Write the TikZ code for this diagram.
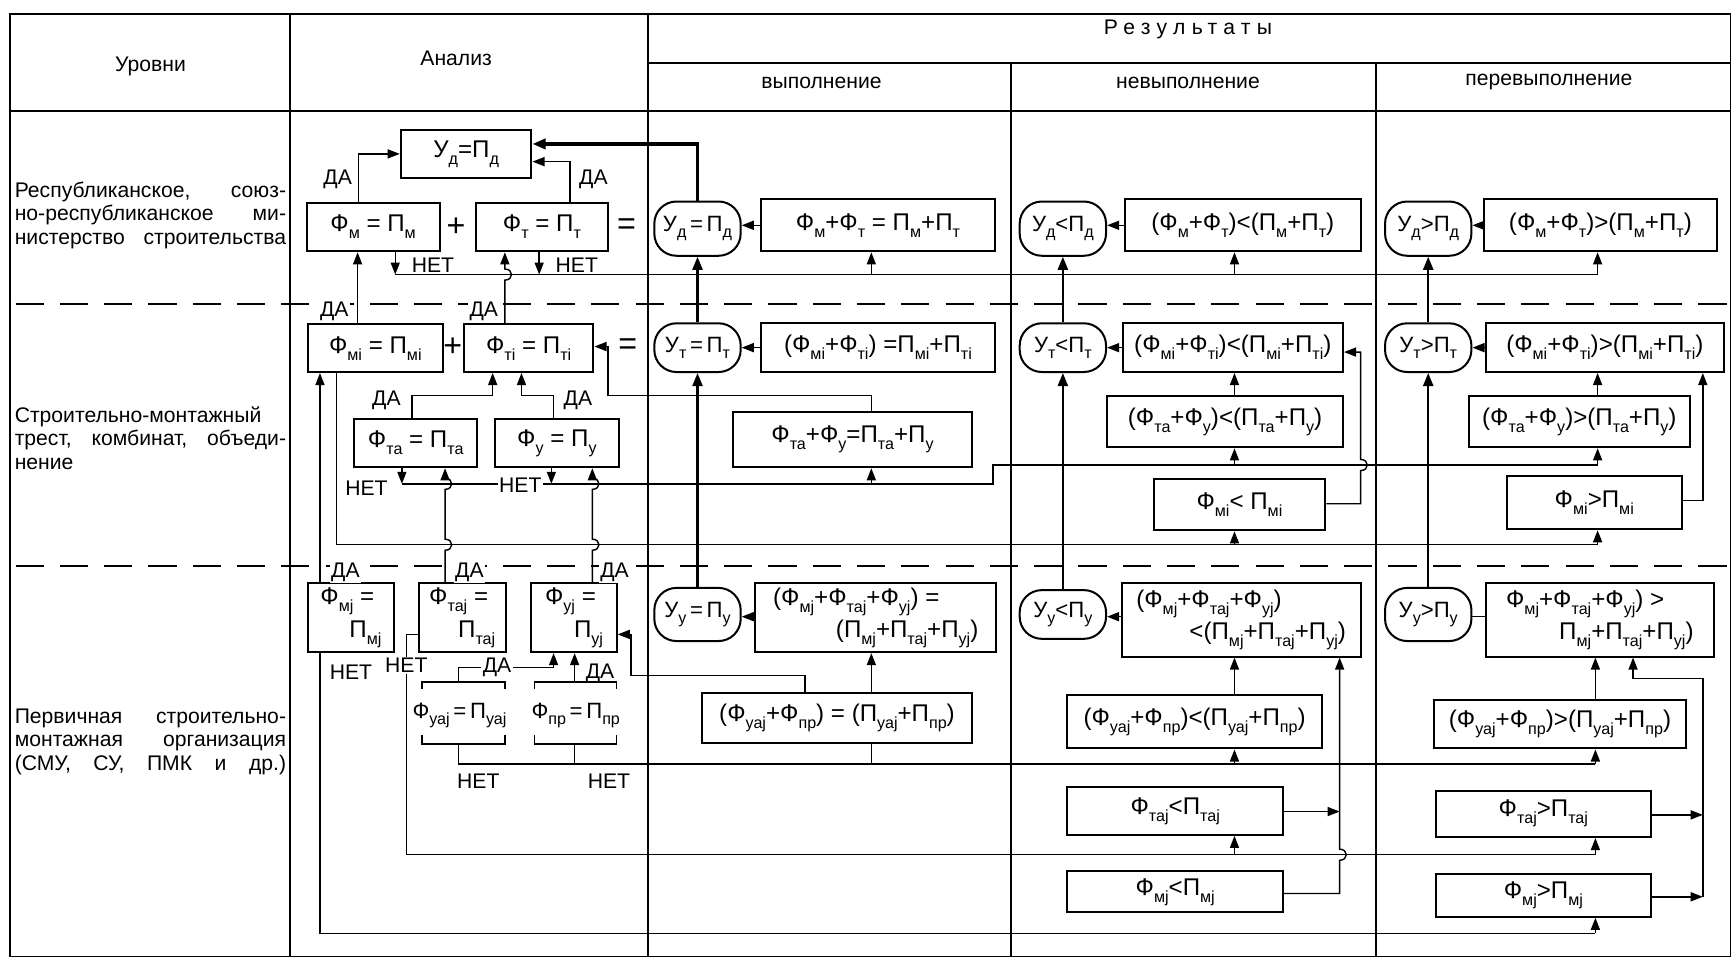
\documentclass[tikz,border=0pt]{standalone}
\usepackage{fontspec}
\setmainfont{Liberation Sans}
\usetikzlibrary{arrows.meta}
\hyphenpenalty=10000
\exhyphenpenalty=10000
\newcommand\subs[1]{\raisebox{-0.55ex}{\fontsize{8}{8}\selectfont #1}}
\newcommand\lf{\fontsize{10.5}{11.6}\selectfont}
\newcommand\ff{\fontsize{12}{16}\selectfont}
\newcommand\fo{\fontsize{11}{16}\selectfont}
\newcommand\sgf{\fontsize{16}{16}\selectfont}
\def\U{0.55pt}
\newcommand\bx[7][bxs]{\node[#1,minimum width={(#5-#3)*\U},minimum height={(#6-#4)*\U}] (#2) at ({(#3+#5)/2},{(#4+#6)/2}) {#7};}
\begin{document}
\begin{tikzpicture}[x=0.55pt,y=-0.55pt,
  tbl/.style={line width=0.9pt},
  dsh/.style={line width=1pt,dash pattern=on 14pt off 8pt},
  bxs/.style={draw,line width=1pt,inner sep=1pt,font=\ff,align=center},
  bxl/.style={bxs,align=left},
  ovs/.style={bxs,rounded corners=11pt,font=\fo},
  ln/.style={line width=0.7pt},
  ar/.style={ln,-{Triangle[length=6pt,width=4.5pt]}},
  tk/.style={line width=1.6pt,-{Triangle[length=6.5pt,width=5pt]}},
  vk/.style={line width=1.1pt,-{Triangle[length=6.5pt,width=5pt]}},
  hd/.style={font=\lf,inner sep=0pt},
  lbl/.style={font=\lf,fill=white,inner sep=0.8pt},
  lab/.style={font=\lf,text width=134.75pt,align=justify,inner sep=0pt,anchor=north west},
  sgn/.style={font=\sgf,inner sep=0pt}]
\useasboundingbox (0,0) rectangle (1568,874);
% ---------- table ----------
\draw[tbl] (9,13) rectangle (1563,864);
\draw[tbl] (262,13) -- (262,864);
\draw[tbl] (585,13) -- (585,864);
\draw[tbl] (913,57) -- (913,864);
\draw[tbl] (1243,57) -- (1243,864);
\draw[tbl] (9,100) -- (1563,100);
\draw[tbl] (585,57) -- (1563,57);
\draw[dsh] (14,275) -- (1560,275);
\draw[dsh] (14,511) -- (1560,511);
% ---------- headers ----------
\node[hd] (hA) at (136,60) {Уровни};
\node[hd] (hB) at (412,53) {Анализ};
\node[hd] (hC) at (1073,27) {\addfontfeature{LetterSpace=30}Результаты};
\node[hd] (hD) at (742,75) {выполнение};
\node[hd] (hE) at (1073,75) {невыполнение};
\node[hd] (hF) at (1399,74) {перевыполнение};
% ---------- level labels ----------
\node[lab] (L1) at (13,164) {Республиканское, союз-\linebreak но-республиканское ми-\linebreak нистерство\hfill строительства};
\node[lab] (L2) at (13,367) {Строительно-монтажный\linebreak трест, комбинат, объеди-\linebreak нение};
\node[lab] (L3) at (13,640) {Первичная строительно-\linebreak монтажная организация\linebreak (СМУ,\hfill СУ,\hfill ПМК\hfill и\hfill др.)};
% ---------- analysis boxes ----------
\bx{Ud}{362}{117}{480}{161}{У\subs{д}=П\subs{д}}
\bx{Fm}{277}{183}{397}{227}{Ф\subs{м} = П\subs{м}}
\bx{Ft}{430}{183}{549}{227}{Ф\subs{т} = П\subs{т}}
\node[sgn] (p1) at (412,205) {+};
\node[sgn] (e1) at (566,205) {=};
\bx{Fmi}{278}{293}{400}{336}{Ф\subs{мi} = П\subs{мi}}
\bx{Fti}{419}{293}{536}{336}{Ф\subs{тi} = П\subs{тi}}
\node[sgn] (p2) at (409,314) {+};
\node[sgn] (e2) at (567,313) {=};
\bx{Fta}{320}{378}{431}{422}{Ф\subs{та} = П\subs{та}}
\bx{Fu}{447}{378}{559}{422}{Ф\subs{у} = П\subs{у}}
\bx[bxl]{Fmj}{278}{527}{356}{589}{Ф\subs{мj} =\\\hspace*{1.2em}П\subs{мj}}
\bx[bxl]{Ftaj}{378}{527}{457}{589}{Ф\subs{таj} =\\\hspace*{1.2em}П\subs{таj}}
\bx[bxl]{Fuj}{480}{527}{557}{589}{Ф\subs{уj} =\\\hspace*{1.2em}П\subs{уj}}
\node[font=\fo,inner sep=0pt] (Fuaj) at (415,646) {Ф\subs{уаj}\,=\,П\subs{уаj}};
\node[font=\fo,inner sep=0pt] (Fpr) at (520,646) {Ф\subs{пр}\,=\,П\subs{пр}};
\coordinate (b1t) at (414,616);
\coordinate (b1b) at (414,672);
\coordinate (b2t) at (519,616);
\coordinate (b2b) at (519,672);
\draw[ln] (381,622) -- (381,616) -- (456,616) -- (456,622);
\draw[ln] (483,622) -- (483,616) -- (557,616) -- (557,622);
\draw[ln] (381,664) -- (381,672) -- (456,672) -- (456,664);
\draw[ln] (483,664) -- (483,672) -- (557,672) -- (557,664);
% ---------- result boxes ----------
\bx[ovs]{O1a}{591}{182}{669}{231}{У\subs{д}\,=\,П\subs{д}}
\bx[ovs]{O1b}{921}{182}{999}{231}{У\subs{д}<П\subs{д}}
\bx[ovs]{O1c}{1251}{182}{1329}{231}{У\subs{д}>П\subs{д}}
\bx{R1a}{687}{180}{899}{227}{Ф\subs{м}+Ф\subs{т} = П\subs{м}+П\subs{т}}
\bx{R1b}{1016}{180}{1229}{227}{(Ф\subs{м}+Ф\subs{т})<(П\subs{м}+П\subs{т})}
\bx{R1c}{1340}{180}{1551}{227}{(Ф\subs{м}+Ф\subs{т})>(П\subs{м}+П\subs{т})}
\bx[ovs]{O2a}{591}{292}{669}{336}{У\subs{т}\,=\,П\subs{т}}
\bx[ovs]{O2b}{921}{292}{999}{336}{У\subs{т}<П\subs{т}}
\bx[ovs]{O2c}{1251}{292}{1329}{336}{У\subs{т}>П\subs{т}}
\bx{R2a1}{687}{292}{899}{336}{(Ф\subs{мi}+Ф\subs{тi}) =П\subs{мi}+П\subs{тi}}
\bx{R2b1}{1014}{292}{1213}{336}{(Ф\subs{мi}+Ф\subs{тi})<(П\subs{мi}+П\subs{тi})}
\bx{R2c1}{1342}{292}{1557}{336}{(Ф\subs{мi}+Ф\subs{тi})>(П\subs{мi}+П\subs{тi})}
\bx{R2a2}{662}{372}{878}{422}{Ф\subs{та}+Ф\subs{у}=П\subs{та}+П\subs{у}}
\bx{R2b2}{1000}{358}{1213}{404}{(Ф\subs{та}+Ф\subs{у})<(П\subs{та}+П\subs{у})}
\bx{R2c2}{1327}{358}{1526}{404}{(Ф\subs{та}+Ф\subs{у})>(П\subs{та}+П\subs{у})}
\bx{R2b3}{1042}{433}{1197}{479}{Ф\subs{мi}< П\subs{мi}}
\bx{R2c3}{1361}{430}{1519}{478}{Ф\subs{мi}>П\subs{мi}}
\bx[ovs]{O3a}{591}{531}{669}{579}{У\subs{у}\,=\,П\subs{у}}
\bx[ovs]{O3b}{921}{533}{999}{577}{У\subs{у}<П\subs{у}}
\bx[ovs]{O3c}{1251}{531}{1329}{579}{У\subs{у}>П\subs{у}}
\bx[bxl]{R3a1}{682}{527}{900}{589}{(Ф\subs{мj}+Ф\subs{таj}+Ф\subs{уj}) =\\\hspace*{2.6em}(П\subs{мj}+П\subs{таj}+П\subs{уj})}
\bx[bxl]{R3b1}{1013}{527}{1229}{593}{(Ф\subs{мj}+Ф\subs{таj}+Ф\subs{уj})\\\hspace*{2.2em}<(П\subs{мj}+П\subs{таj}+П\subs{уj})}
\bx[bxl]{R3c1}{1342}{527}{1548}{593}{Ф\subs{мj}+Ф\subs{таj}+Ф\subs{уj}) >\\\hspace*{2.2em}П\subs{мj}+П\subs{таj}+П\subs{уj})}
\bx{R3a2}{634}{626}{878}{671}{(Ф\subs{уаj}+Ф\subs{пр}) = (П\subs{уаj}+П\subs{пр})}
\bx{R3b2}{964}{628}{1194}{676}{(Ф\subs{уаj}+Ф\subs{пр})<(П\subs{уаj}+П\subs{пр})}
\bx{R3c2}{1295}{632}{1523}{676}{(Ф\subs{уаj}+Ф\subs{пр})>(П\subs{уаj}+П\subs{пр})}
\bx{R3b3}{964}{711}{1159}{754}{Ф\subs{таj}<П\subs{таj}}
\bx{R3c3}{1297}{714}{1491}{756}{Ф\subs{таj}>П\subs{таj}}
\bx{R3b4}{964}{787}{1159}{824}{Ф\subs{мj}<П\subs{мj}}
\bx{R3c4}{1297}{789}{1491}{828}{Ф\subs{мj}>П\subs{мj}}
% ---------- connectors: row 1 ----------
\draw[ar] (324,0 |- Fm.north) |- (Ud.west |- 0,139);
\draw[ar] (515,0 |- Ft.north) |- (Ud.east |- 0,146);
\draw[tk] (630,0 |- O1a.north) |- (Ud.east |- 0,130);
\draw[ar] (357,0 |- Fm.south) -- (357,248);
\draw[ar] (487,0 |- Ft.south) -- (487,248);
\draw[ln] (357,248) -- (1443,248);
\draw[ar] (787,248) -- (787,0 |- R1a.south);
\draw[ar] (1115,248) -- (1115,0 |- R1b.south);
\draw[ar] (1443,248) -- (1443,0 |- R1c.south);
\draw[ar] (R1a.west) -- (O1a.east |- R1a.west);
\draw[ar] (R1b.west) -- (O1b.east |- R1b.west);
\draw[ar] (R1c.west) -- (O1c.east |- R1c.west);
% ---------- connectors: row 2 ----------
\draw[ar] (323,0 |- Fmi.north) -- (323,0 |- Fm.south);
\draw[ar] (456,0 |- Fti.north) -- (456,253) .. controls (464,253) and (464,243) .. (456,243) -- (456,0 |- Ft.south);
\draw[ar] (372,0 |- Fta.north) |- (445,357) -- (445,0 |- Fti.south);
\draw[ar] (500,0 |- Fu.north) |- (471,357) -- (471,0 |- Fti.south);
\draw[ar] (787,0 |- R2a2.north) |- (549,357) |- (Fti.east |- 0,313);
\draw[ar] (363,0 |- Fta.south) -- (363,437);
\draw[ar] (498,0 |- Fu.south) -- (498,437);
\draw[ln] (363,437) -- (897,437) -- (897,420) -- (1443,420);
\draw[ar] (787,437) -- (787,0 |- R2a2.south);
\draw[ar] (1115,420) -- (1115,0 |- R2b2.south);
\draw[ar] (1443,420) -- (1443,0 |- R2c2.south);
\draw[ln] (304,0 |- Fmi.south) -- (304,492) -- (1443,492);
\draw[ar] (1115,492) -- (1115,0 |- R2b3.south);
\draw[ar] (1443,492) -- (1443,0 |- R2c3.south);
\draw[ar] (R2a1.west) -- (O2a.east |- R2a1.west);
\draw[ar] (R2b1.west) -- (O2b.east |- R2b1.west);
\draw[ar] (R2c1.west) -- (O2c.east |- R2c1.west);
\draw[ar] (1115,0 |- R2b2.north) -- (1115,0 |- R2b1.south);
\draw[ar] (1443,0 |- R2c2.north) -- (1443,0 |- R2c1.south);
\draw[ar] (R2b3.east |- 0,455) -- (1229,455) -- (1229,425) .. controls (1237,425) and (1237,415) .. (1229,415) |- (R2b1.east |- 0,318);
\draw[ar] (R2c3.east |- 0,452) -| (1538,0 |- R2c1.south);
% oval chain
\draw[vk] (630,0 |- O2a.north) -- (630,0 |- O1a.south);
\draw[vk] (960,0 |- O2b.north) -- (960,0 |- O1b.south);
\draw[vk] (1290,0 |- O2c.north) -- (1290,0 |- O1c.south);
\draw[vk] (630,0 |- O3a.north) -- (630,0 |- O2a.south);
\draw[vk] (960,0 |- O3b.north) -- (960,0 |- O2b.south);
\draw[vk] (1290,0 |- O3c.north) -- (1290,0 |- O2c.south);
% ---------- connectors: row 3 ----------
\draw[ar] (289,0 |- Fmj.north) -- (289,0 |- Fmi.south);
\draw[ar] (402,0 |- Ftaj.north) -- (402,497) .. controls (410,497) and (410,487) .. (402,487) -- (402,442) .. controls (410,442) and (410,432) .. (402,432) -- (402,0 |- Fta.south);
\draw[ar] (535,0 |- Fuj.north) -- (535,497) .. controls (543,497) and (543,487) .. (535,487) -- (535,442) .. controls (543,442) and (543,432) .. (535,432) -- (535,0 |- Fu.south);
\draw[ln] (289,0 |- Fmj.south) -- (289,843) -- (1441,843);
\draw[ar] (1441,843) -- (1441,0 |- R3c4.south);
\draw[ln] (Ftaj.west |- 0,573) -- (367,573) -- (367,772) -- (1441,772);
\draw[ar] (1115,772) -- (1115,0 |- R3b3.south);
\draw[ar] (1441,772) -- (1441,0 |- R3c3.south);
\draw[ar] (b1t) -- (414,603) -| (500,0 |- Fuj.south);
\draw[ar] (b2t) -- (519,0 |- Fuj.south);
\draw[ln] (b1b) -- (414,690) -- (1441,690);
\draw[ln] (b2b) -- (519,690);
\draw[ln] (787,0 |- R3a2.south) -- (787,690);
\draw[ar] (1115,690) -- (1115,0 |- R3b2.south);
\draw[ar] (1441,690) -- (1441,0 |- R3c2.south);
\draw[ar] (727,0 |- R3a2.north) |- (570,610) |- (Fuj.east |- 0,573);
\draw[ar] (787,0 |- R3a2.north) -- (787,0 |- R3a1.south);
\draw[ar] (R3a1.west |- 0,557) -- (O3a.east |- 0,557);
\draw[ar] (R3b1.west |- 0,557) -- (O3b.east |- 0,557);
\draw[ln] (R3c1.west |- 0,557) -- (O3c.east |- 0,557);
\draw[ar] (1115,0 |- R3b2.north) -- (1115,0 |- R3b1.south);
\draw[ar] (1441,0 |- R3c2.north) -- (1441,0 |- R3c1.south);
\draw[ar] (R3b3.east |- 0,733) -- (1210,733);
\draw[ar] (R3b4.east |- 0,807) -- (1210,807) -- (1210,777) .. controls (1218,777) and (1218,767) .. (1210,767) -- (1210,0 |- R3b1.south);
\coordinate (rc) at (1538,810);
\draw[ar] (R3c3.east |- 0,736) -- (1538,736);
\draw[ar] (R3c4.east |- 0,810) -- (rc);
\draw[ar] (rc) -- (1538,613) -| (1475,0 |- R3c1.south);
% ---------- labels ----------
\node[lbl] (da1) at (305,162) {ДА};
\node[lbl] (da2) at (536,162) {ДА};
\node[hd] (nt1) at (391,240) {НЕТ};
\node[hd] (nt2) at (521,240) {НЕТ};
\node[lbl] (da3) at (302,281) {ДА};
\node[lbl] (da4) at (437,281) {ДА};
\node[hd] (da5) at (349,362) {ДА};
\node[hd] (da6) at (522,362) {ДА};
\node[hd] (nt3) at (331,441) {НЕТ};
\node[lbl] (nt4) at (470,438) {НЕТ};
\node[lbl] (da7) at (312,517) {ДА};
\node[lbl] (da8) at (424,517) {ДА};
\node[lbl] (da9) at (555,517) {ДА};
\node[hd] (nt5) at (317,607) {НЕТ};
\node[lbl] (nt6) at (367,601) {НЕТ};
\node[lbl] (da10) at (449,603) {ДА};
\node[hd] (da11) at (542,608) {ДА};
\node[hd] (nt7) at (432,706) {НЕТ};
\node[hd] (nt8) at (550,706) {НЕТ};
\end{tikzpicture}
\end{document}
